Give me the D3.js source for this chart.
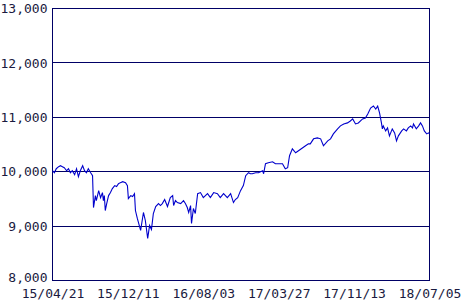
<!DOCTYPE html>
<html><head><meta charset="utf-8">
<script src="https://cdn.jsdelivr.net/npm/d3@7"></script>
<style>html,body{margin:0;padding:0;background:#fff;}</style>
</head><body>
<svg id="c" width="470" height="300"></svg>
<script>
// trading-day index (0..800) and index values
const days = [0,4,8,13,17,21,25,30,34,38,42,47,51,55,59,64,68,72,76,81,85,87,91,93,98,102,106,108,110,112,115,119,123,127,132,136,140,144,149,155,159,161,166,170,174,176,180,187,193,197,202,206,210,214,219,225,229,233,238,244,250,255,257,261,265,272,278,282,286,289,293,295,299,303,308,314,320,329,335,342,350,356,363,371,378,384,388,393,399,405,410,416,420,424,431,437,446,448,452,458,467,473,480,488,494,499,503,509,516,522,531,537,543,547,554,562,569,575,584,590,596,605,611,618,626,632,637,643,649,658,664,669,675,681,686,690,694,698,700,702,707,711,715,721,726,730,734,741,745,751,755,760,764,766,772,777,781,785,789,794,798,800];
const values = [10018,9982,10055,10092,10110,10092,10073,10018,10055,9982,10018,9945,10055,9909,10018,10110,10018,9982,10055,9982,9927,9341,9561,9469,9652,9524,9616,9469,9561,9286,9414,9561,9616,9689,9744,9726,9780,9799,9817,9799,9744,9506,9561,9543,9597,9286,9140,8920,9250,9103,8774,9012,8939,9231,9360,9414,9378,9414,9488,9360,9524,9561,9378,9469,9433,9414,9469,9414,9341,9250,9378,9048,9323,9231,9597,9616,9524,9597,9524,9616,9597,9524,9597,9524,9597,9433,9488,9524,9652,9744,9927,9982,9963,9963,9982,9982,10018,9963,10146,10165,10183,10146,10146,10146,10055,10073,10293,10421,10348,10384,10439,10476,10512,10512,10604,10622,10604,10476,10567,10604,10695,10787,10842,10878,10897,10933,10970,10878,10897,10970,10988,11061,11171,11208,11153,11208,11080,10897,10787,10842,10750,10805,10659,10787,10714,10567,10659,10750,10787,10750,10805,10842,10805,10878,10787,10842,10897,10842,10750,10695,10714,10695];
const xTickDays = [0,160,320,480,640,800];
const xTickLabels = ["15/04/21","15/12/11","16/08/03","17/03/27","17/11/13","18/07/05"];
const yTicks = [8000,9000,10000,11000,12000,13000];

const svg = d3.select("#c");
const L = 52.5, R = 429.5, T = 8.5, B = 280.5;
const x = d3.scaleLinear().domain([0,800]).range([L,R]);
const y = d3.scaleLinear().domain([8000,13000]).range([B,T]);
const navy = "#000066";
const font = "'DejaVu Sans Mono', monospace";

// gridlines
svg.append("g").selectAll("line").data(yTicks).join("line")
  .attr("x1",L).attr("x2",R)
  .attr("y1",d=>Math.round(y(d)-0.5)+0.5).attr("y2",d=>Math.round(y(d)-0.5)+0.5)
  .attr("stroke",navy).attr("stroke-width",1).attr("shape-rendering","crispEdges");
// frame
svg.append("rect").attr("x",L).attr("y",T).attr("width",R-L).attr("height",B-T)
  .attr("fill","none").attr("stroke",navy).attr("shape-rendering","crispEdges");

// y axis labels
const yAxis = d3.axisLeft(y).tickValues(yTicks).tickSize(0).tickPadding(5).tickFormat(d3.format(","));
const gy = svg.append("g").attr("transform",`translate(${L},0)`).call(yAxis);
gy.select(".domain").remove();
gy.selectAll("text").attr("font-family",font).attr("font-size",13).attr("fill","#1a1a40")
  .attr("dy", d => d === 8000 ? "0.1em" : "0.32em");

// x axis labels
const xAxis = d3.axisBottom(x).tickValues(xTickDays).tickSize(0).tickPadding(8)
  .tickFormat((d,i)=>xTickLabels[i]);
const gx = svg.append("g").attr("transform",`translate(0,${B})`).call(xAxis);
gx.select(".domain").remove();
gx.selectAll("text").attr("font-family",font).attr("font-size",13).attr("fill","#1a1a40");

// line
const pts = days.map((d,i)=>[d,values[i]]);
svg.append("path").datum(pts)
  .attr("fill","none").attr("stroke","#0000cc").attr("stroke-width",1.1)
  .attr("d", d3.line().x(d=>x(d[0])).y(d=>y(d[1])));
</script>
</body></html>
